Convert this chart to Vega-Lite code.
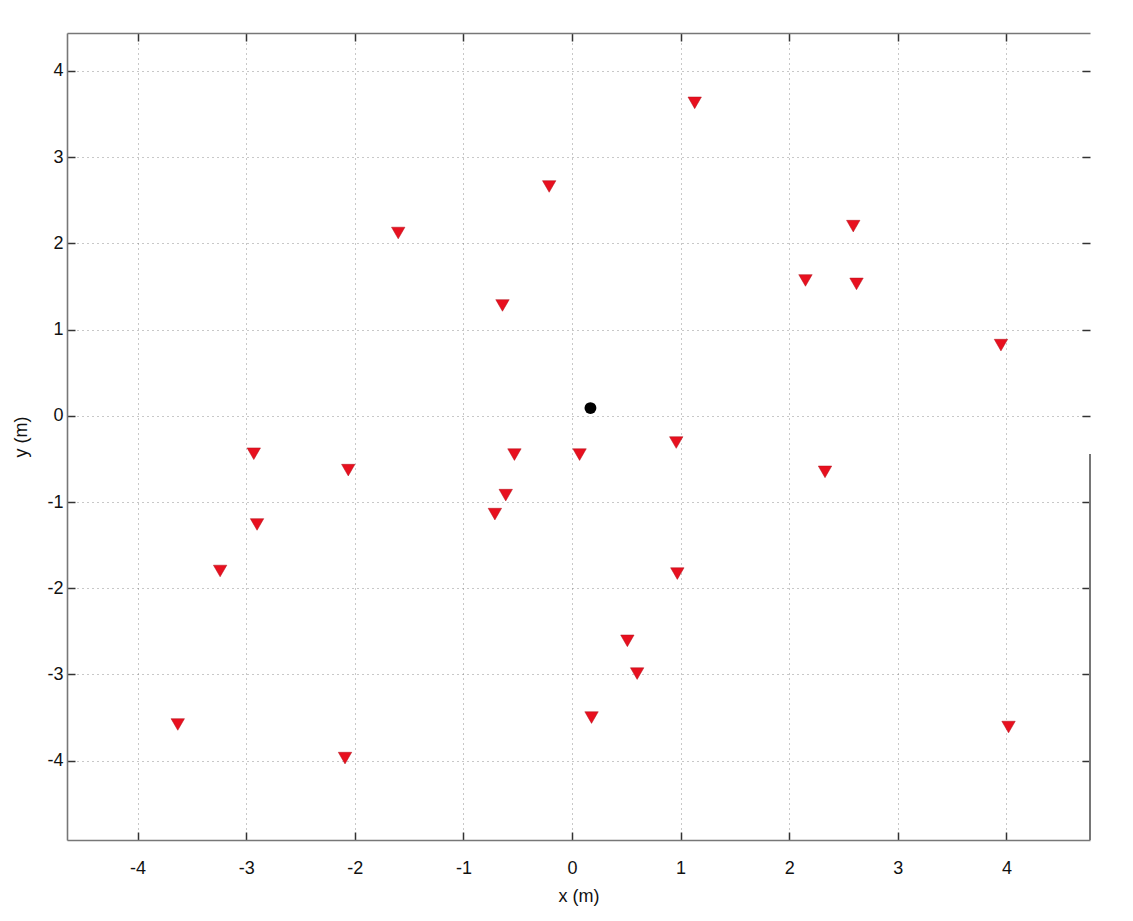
{
  "$schema": "https://vega.github.io/schema/vega-lite/v6.json",
  "autosize": {"type": "none"},
  "padding": {"left": 67, "top": 33, "right": 43, "bottom": 81},
  "width": 1023,
  "height": 807,
  "background": "white",
  "config": {
    "view": {"stroke": null},
    "font": "Liberation Sans",
    "axis": {
      "labelFont": "Liberation Sans",
      "titleFont": "Liberation Sans",
      "labelFontSize": 18,
      "titleFontSize": 18,
      "labelColor": "#111",
      "titleColor": "#111",
      "titleFontWeight": "normal",
      "domainColor": "#777",
      "domainWidth": 1.6,
      "tickColor": "#333",
      "tickWidth": 1.5,
      "tickSize": -8,
      "gridColor": "#777",
      "gridDash": [1, 4],
      "gridWidth": 1,
      "gridOpacity": 0.8,
      "labelExpr": "datum.value < 0 ? '-' + abs(datum.value) : '' + datum.value"
    }
  },
  "data": {
    "values": [
      {"x": 1.13, "y": 3.63, "type": "anchor"},
      {"x": -0.21, "y": 2.66, "type": "anchor"},
      {"x": -1.60, "y": 2.12, "type": "anchor"},
      {"x": 2.59, "y": 2.20, "type": "anchor"},
      {"x": 2.15, "y": 1.57, "type": "anchor"},
      {"x": 2.62, "y": 1.53, "type": "anchor"},
      {"x": -0.64, "y": 1.28, "type": "anchor"},
      {"x": 3.95, "y": 0.82, "type": "anchor"},
      {"x": 0.96, "y": -0.31, "type": "anchor"},
      {"x": -2.93, "y": -0.44, "type": "anchor"},
      {"x": -2.06, "y": -0.63, "type": "anchor"},
      {"x": -0.53, "y": -0.45, "type": "anchor"},
      {"x": 0.07, "y": -0.45, "type": "anchor"},
      {"x": 2.33, "y": -0.65, "type": "anchor"},
      {"x": -0.61, "y": -0.92, "type": "anchor"},
      {"x": -0.71, "y": -1.14, "type": "anchor"},
      {"x": -2.90, "y": -1.26, "type": "anchor"},
      {"x": -3.24, "y": -1.80, "type": "anchor"},
      {"x": 0.97, "y": -1.83, "type": "anchor"},
      {"x": 0.51, "y": -2.61, "type": "anchor"},
      {"x": 0.60, "y": -2.99, "type": "anchor"},
      {"x": 0.18, "y": -3.50, "type": "anchor"},
      {"x": -3.63, "y": -3.58, "type": "anchor"},
      {"x": -2.09, "y": -3.97, "type": "anchor"},
      {"x": 4.02, "y": -3.61, "type": "anchor"},
      {"x": 0.17, "y": 0.09, "type": "target"}
    ]
  },
  "resolve": {"axis": {"x": "independent", "y": "independent"}},
  "layer": [
    {
      "transform": [{"filter": "datum.type === 'anchor'"}],
      "mark": {"type": "point", "shape": "triangle-down", "filled": true, "color": "#e8101f", "size": 180, "opacity": 1, "stroke": "#b0101a", "strokeWidth": 0.5},
      "encoding": {
        "x": {"field": "x", "type": "quantitative", "scale": {"domain": [-4.65, 4.77], "nice": false, "zero": false},
          "axis": {"orient": "bottom", "title": "x (m)", "values": [-4, -3, -2, -1, 0, 1, 2, 3, 4], "grid": true, "labelPadding": 27, "titlePadding": 10}},
        "y": {"field": "y", "type": "quantitative", "scale": {"domain": [-4.92, 4.44], "nice": false, "zero": false},
          "axis": {"orient": "left", "title": "y (m)", "values": [-4, -3, -2, -1, 0, 1, 2, 3, 4], "grid": true, "labelPadding": 12, "titlePadding": 16}}
      }
    },
    {
      "transform": [{"filter": "datum.type === 'target'"}],
      "mark": {"type": "point", "shape": "circle", "filled": true, "color": "black", "size": 140, "opacity": 1},
      "encoding": {
        "x": {"field": "x", "type": "quantitative",
          "axis": {"orient": "top", "title": null, "labels": false, "grid": false, "values": [-4, -3, -2, -1, 0, 1, 2, 3, 4]}},
        "y": {"field": "y", "type": "quantitative",
          "axis": {"orient": "right", "title": null, "labels": false, "grid": false, "domain": false, "values": [-4, -3, -2, -1, 0, 1, 2, 3, 4]}}
      }
    },
    {
      "mark": {"type": "rule", "color": "#777", "strokeWidth": 1.6},
      "encoding": {
        "x": {"datum": 4.77, "type": "quantitative", "axis": null},
        "y": {"datum": -0.45, "type": "quantitative", "axis": null},
        "y2": {"datum": -4.92}
      }
    }
  ]
}
